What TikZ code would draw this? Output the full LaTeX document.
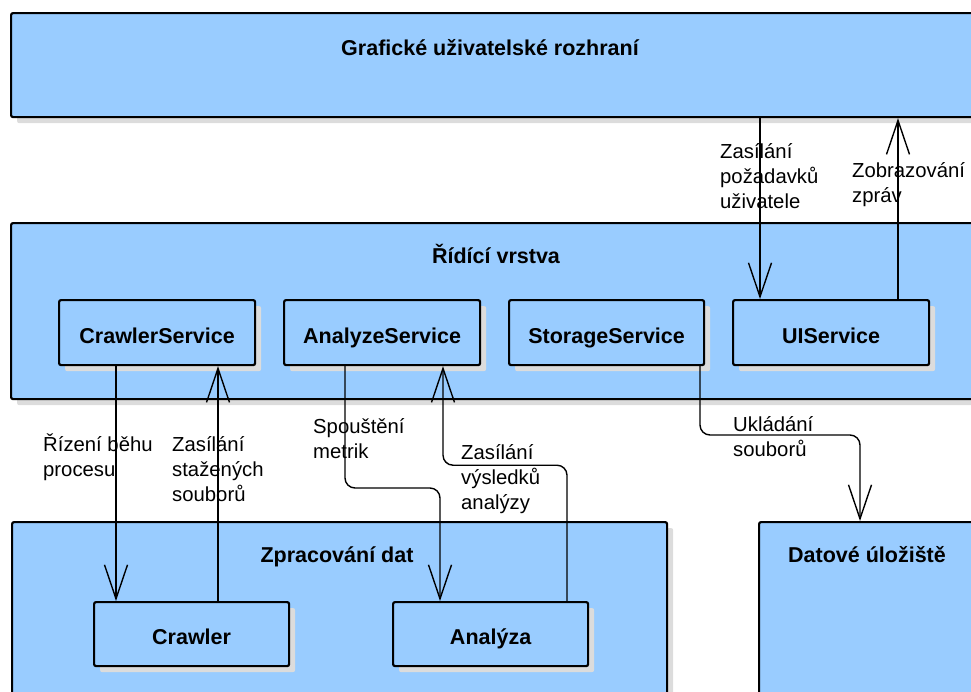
\documentclass[tikz,border=0pt]{standalone}
\usepackage{fontspec}
\setmainfont{Liberation Sans}
\usetikzlibrary{arrows.meta,calc,shadows}
\definecolor{boxblue}{HTML}{99CCFF}
\definecolor{shadowgray}{HTML}{DCDCDC}
\tikzset{
  box/.style={draw, line width=2.2pt, fill=boxblue, rounded corners=2pt, inner sep=0pt,
    anchor=north west,
    drop shadow={shadow xshift=6pt, shadow yshift=-6pt, fill=shadowgray, opacity=1}},
  svc/.style={box, font=\fontsize{21.5}{25}\selectfont\bfseries, text height=21pt, text depth=0pt},
  ttl/.style={font=\fontsize{21.5}{25}\selectfont\bfseries, anchor=base, inner sep=0pt},
  lbl/.style={font=\fontsize{20.3}{25}\selectfont, anchor=base west, align=left, inner sep=0pt},
  conn/.style={line width=1.4pt, rounded corners=10pt, -{Straight Barb[length=34pt, width=23pt]}}
}
\begin{document}
\begin{tikzpicture}[x=1pt,y=-1pt]
\useasboundingbox (0,0) rectangle (971,691);
\clip (0,0) rectangle (971,691);
% big boxes
\node[box, minimum width=975pt, minimum height=104pt] (gui) at (10,12) {};
\node[box, minimum width=975pt, minimum height=176pt] (ctl) at (10,222) {};
\node[box, minimum width=655pt, minimum height=200pt] (proc) at (11,521) {};
\node[box, minimum width=240pt, minimum height=200pt] (ds) at (758,521) {};
% titles
\node[ttl] (tgui) at (490,55) {Grafické uživatelské rozhraní};
\node[ttl] (tctl) at (496,263) {Řídící vrstva};
\node[ttl] (tproc) at (337,562) {Zpracování dat};
\node[ttl] (tds) at (867,562) {Datové úložiště};
% services
\node[svc, minimum width=196pt, minimum height=65pt] (cs) at (58,299) {CrawlerService};
\node[svc, minimum width=196pt, minimum height=65pt] (as) at (283,299) {AnalyzeService};
\node[svc, minimum width=195pt, minimum height=65pt] (ss) at (508,299) {StorageService};
\node[svc, minimum width=196pt, minimum height=65pt] (ui) at (732,299) {UIService};
\node[svc, minimum width=195pt, minimum height=64pt] (cr) at (93,601) {Crawler};
\node[svc, minimum width=195pt, minimum height=64pt] (an) at (392,601) {Analýza};
% connectors
\draw[conn] ($(cs.south west)+(58,0)$) -- ($(cr.north west)+(23,0)$);
\draw[conn] ($(cr.north west)+(125,0)$) -- ($(cs.south west)+(160,0)$);
\draw[conn] ($(as.south west)+(62,0)$) |- ($(an.north west)+(48,-113)$) -- ($(an.north west)+(48,0)$);
\draw[conn] ($(an.north west)+(175,0)$) |- ($(as.south west)+(160,99)$) -- ($(as.south west)+(160,0)$);
\draw[conn] ($(ss.south west)+(192,0)$) |- ($(ds.north west)+(102,-86)$) -- ($(ds.north west)+(102,0)$);
\draw[conn] ($(gui.south west)+(750,0)$) -- ($(ui.north west)+(28,0)$);
\draw[conn] ($(ui.north west)+(166,0)$) -- ($(gui.south west)+(888,0)$);
% labels (anchor at baseline of last line)
\node[lbl] (l1) at (43,476) {Řízení běhu\\procesu};
\node[lbl] (l2) at (172,501) {Zasílání\\stažených\\souborů};
\node[lbl] (l3) at (313,458) {Spouštění\\metrik};
\node[lbl] (l4) at (461,509) {Zasílání\\výsledků\\analýzy};
\node[lbl] (l5) at (733,456) {Ukládání\\souborů};
\node[lbl] (l6) at (720,208) {Zasílání\\požadavků\\uživatele};
\node[lbl] (l7) at (852,202) {Zobrazování\\zpráv};
\end{tikzpicture}
\end{document}
